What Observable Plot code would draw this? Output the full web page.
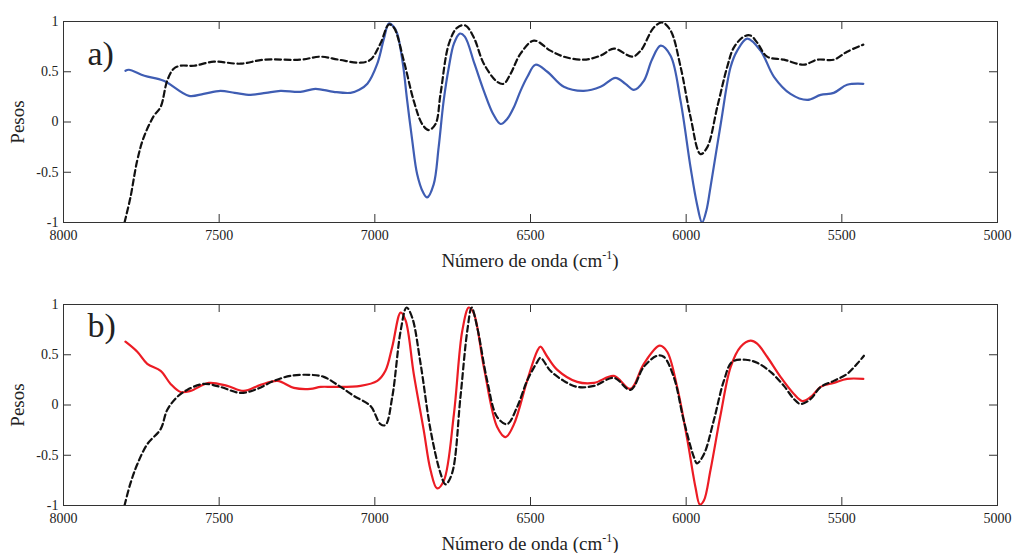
<!DOCTYPE html>
<html>
<head>
<meta charset="utf-8">
<script src="https://cdn.jsdelivr.net/npm/d3@7"></script>
<script src="https://cdn.jsdelivr.net/npm/@observablehq/plot@0.6"></script>
<style>
  html, body { margin: 0; padding: 0; background: #fff; }
  #wrap { position: relative; width: 1014px; height: 553px; overflow: hidden; font-family: "Liberation Serif", "Times New Roman", Tinos, "Nimbus Roman", "FreeSerif", "Noto Serif", "DejaVu Serif", serif; }
  .panel { position: absolute; left: 0; width: 1014px; }
  .xlabel { position: absolute; left: 63px; width: 934px; text-align: center; font-size: 19px; color: #222; line-height: 1; }
  .xlabel sup { font-size: 12px; vertical-align: 8px; line-height: 0; }
</style>
</head>
<body>
<div id="wrap">
  <div class="panel" id="pa" style="top:0px"></div>
  <div class="panel" id="pb" style="top:283px"></div>
  <div class="xlabel" style="top:251px">Número de onda (cm<sup>-1</sup>)</div>
  <div class="xlabel" style="top:534px">Número de onda (cm<sup>-1</sup>)</div>
</div>
<script>
// ---- Data ----
const xTicks = [8000, 7500, 7000, 6500, 6000, 5500, 5000];
const yTicks = [-1, -0.5, 0, 0.5, 1];
const yTickLabels = ["-1", "-0.5", "0", "0.5", "1"];
const panelLabels = ["a)", "b)"];
const yLabel = "Pesos";

// Panel a) blue solid
const aBlueX = [7801, 7790, 7740, 7678, 7597, 7550, 7496, 7450, 7399, 7350, 7303, 7239, 7191, 7132, 7078, 7050, 7024, 6992, 6970, 6955, 6940, 6928, 6910, 6896, 6880, 6864, 6845, 6832, 6811, 6795, 6779, 6762, 6746, 6727, 6711, 6680, 6650, 6620, 6596, 6575, 6553, 6532, 6510, 6484, 6446, 6393, 6329, 6275, 6227, 6195, 6168, 6136, 6110, 6082, 6050, 6018, 5986, 5965, 5949, 5935, 5922, 5889, 5857, 5836, 5804, 5761, 5718, 5665, 5611, 5568, 5526, 5483, 5431];
const aBlueY = [0.51, 0.52, 0.46, 0.41, 0.26, 0.28, 0.31, 0.29, 0.27, 0.29, 0.31, 0.30, 0.33, 0.30, 0.29, 0.32, 0.38, 0.58, 0.84, 0.98, 0.95, 0.88, 0.58, 0.21, -0.18, -0.52, -0.70, -0.75, -0.62, -0.25, 0.21, 0.55, 0.78, 0.88, 0.85, 0.58, 0.31, 0.08, -0.02, 0.03, 0.15, 0.31, 0.45, 0.57, 0.50, 0.35, 0.31, 0.35, 0.44, 0.38, 0.32, 0.41, 0.62, 0.76, 0.66, 0.21, -0.45, -0.82, -1.0, -0.88, -0.65, -0.02, 0.55, 0.71, 0.83, 0.71, 0.45, 0.28, 0.22, 0.27, 0.29, 0.37, 0.38];

// Panel a) black dashed
const aDashX = [7804, 7785, 7763, 7742, 7710, 7688, 7667, 7646, 7624, 7581, 7517, 7431, 7357, 7239, 7174, 7116, 7046, 7014, 6982, 6955, 6939, 6907, 6875, 6848, 6827, 6805, 6789, 6762, 6735, 6709, 6682, 6650, 6607, 6586, 6564, 6532, 6489, 6436, 6393, 6329, 6275, 6232, 6173, 6146, 6104, 6077, 6050, 6018, 5986, 5954, 5932, 5900, 5868, 5847, 5815, 5793, 5772, 5740, 5686, 5622, 5579, 5526, 5483, 5431];
const aDashY = [-1.0, -0.75, -0.38, -0.15, 0.06, 0.15, 0.41, 0.53, 0.56, 0.56, 0.60, 0.58, 0.62, 0.62, 0.65, 0.62, 0.59, 0.62, 0.78, 0.97, 0.94, 0.61, 0.21, -0.02, -0.08, -0.02, 0.28, 0.78, 0.94, 0.96, 0.84, 0.58, 0.40, 0.38, 0.48, 0.68, 0.81, 0.71, 0.65, 0.62, 0.66, 0.73, 0.65, 0.71, 0.94, 0.99, 0.91, 0.55, 0.05, -0.32, -0.25, 0.15, 0.55, 0.74, 0.85, 0.86, 0.79, 0.65, 0.62, 0.57, 0.62, 0.62, 0.70, 0.77];

// Panel b) red solid
const bRedX = [7801, 7763, 7731, 7688, 7656, 7624, 7592, 7533, 7474, 7421, 7367, 7313, 7260, 7207, 7174, 7132, 7046, 6992, 6966, 6944, 6917, 6901, 6875, 6843, 6821, 6800, 6778, 6746, 6719, 6698, 6682, 6650, 6607, 6580, 6553, 6511, 6478, 6468, 6446, 6414, 6350, 6296, 6232, 6179, 6136, 6085, 6061, 6029, 5996, 5970, 5956, 5943, 5922, 5889, 5857, 5825, 5793, 5772, 5740, 5697, 5654, 5627, 5600, 5568, 5526, 5483, 5431];
const bRedY = [0.63, 0.53, 0.41, 0.34, 0.21, 0.13, 0.14, 0.22, 0.19, 0.14, 0.20, 0.24, 0.17, 0.16, 0.18, 0.18, 0.19, 0.24, 0.34, 0.58, 0.92, 0.84, 0.31, -0.25, -0.65, -0.83, -0.75, -0.09, 0.74, 0.97, 0.91, 0.38, -0.22, -0.32, -0.19, 0.24, 0.54, 0.58, 0.48, 0.35, 0.23, 0.22, 0.29, 0.16, 0.41, 0.59, 0.53, 0.18, -0.35, -0.82, -0.99, -0.95, -0.65, -0.09, 0.38, 0.58, 0.64, 0.61, 0.48, 0.28, 0.11, 0.04, 0.08, 0.18, 0.22, 0.26, 0.26];

// Panel b) black dashed
const bDashX = [7804, 7785, 7763, 7731, 7688, 7667, 7635, 7603, 7549, 7496, 7431, 7378, 7324, 7271, 7207, 7164, 7110, 7067, 7014, 6982, 6966, 6944, 6917, 6898, 6880, 6853, 6821, 6789, 6773, 6752, 6725, 6703, 6689, 6671, 6639, 6607, 6575, 6543, 6511, 6478, 6468, 6436, 6393, 6350, 6296, 6232, 6179, 6136, 6093, 6072, 6040, 6008, 5975, 5965, 5943, 5911, 5879, 5852, 5809, 5772, 5729, 5686, 5654, 5633, 5600, 5568, 5526, 5483, 5451, 5429];
const bDashY = [-1.0, -0.78, -0.59, -0.39, -0.24, -0.05, 0.08, 0.15, 0.21, 0.18, 0.12, 0.16, 0.24, 0.29, 0.30, 0.28, 0.18, 0.09, -0.01, -0.19, -0.20, 0.08, 0.74, 0.97, 0.87, 0.41, -0.25, -0.68, -0.79, -0.68, 0.08, 0.74, 0.97, 0.77, 0.24, -0.12, -0.19, -0.02, 0.24, 0.43, 0.47, 0.34, 0.24, 0.18, 0.19, 0.27, 0.15, 0.38, 0.49, 0.48, 0.28, -0.15, -0.52, -0.58, -0.49, -0.15, 0.24, 0.43, 0.45, 0.42, 0.33, 0.19, 0.06, 0.01, 0.06, 0.18, 0.24, 0.31, 0.41, 0.49];

// ---- Build ----
const W = 1014, H = 283;
const mL = 63, mR = 17, mT = 21, mB = 61;
const plotW = W - mL - mR, plotH = H - mT - mB;
const TICK = 8;
const FONT = '"Liberation Serif", "Times New Roman", Tinos, "Nimbus Roman", FreeSerif, "Noto Serif", "DejaVu Serif", serif';

function toRows(xs, ys) { return xs.map((x, i) => ({x, y: ys[i]})); }

function panel(label, solidRows, solidColor, dashRows, labelDy) {
  return Plot.plot({
    width: W, height: H,
    marginLeft: mL, marginRight: mR, marginTop: mT, marginBottom: mB,
    style: {fontFamily: FONT, fontSize: "14px", color: "#222", background: "#fff"},
    x: {domain: [8000, 5000], ticks: xTicks},
    y: {domain: [-1, 1], ticks: yTicks},
    marks: [
      // inward ticks: bottom, top, left, right
      Plot.ruleX(xTicks, {x: d => d, insetTop: plotH - TICK, stroke: "#333", strokeWidth: 1}),
      Plot.ruleX(xTicks, {x: d => d, insetBottom: plotH - TICK, stroke: "#333", strokeWidth: 1}),
      Plot.ruleY(yTicks, {y: d => d, insetRight: plotW - TICK, stroke: "#333", strokeWidth: 1}),
      Plot.ruleY(yTicks, {y: d => d, insetLeft: plotW - TICK, stroke: "#333", strokeWidth: 1}),
      Plot.axisX({ticks: xTicks, tickSize: 0, tickPadding: 8, tickFormat: d => String(d), label: null, fontSize: 14, fontFamily: FONT}),
      Plot.axisY({ticks: yTicks, tickSize: 0, tickPadding: 5, tickFormat: d => yTickLabels[yTicks.indexOf(d)], label: null, fontSize: 14, fontFamily: FONT}),
      Plot.line(solidRows, {x: "x", y: "y", stroke: solidColor, strokeWidth: 2.2, curve: "catmull-rom", clip: true}),
      Plot.line(dashRows, {x: "x", y: "y", stroke: "#111", strokeWidth: 2.2, strokeDasharray: "6,3.5", curve: "catmull-rom", clip: true}),
      Plot.frame({stroke: "#333", strokeWidth: 1}),
      Plot.text([label], {text: d => d, frameAnchor: "top-left", dx: 24, dy: labelDy, textAnchor: "start", lineAnchor: "middle", fontSize: 34, fontFamily: FONT, fill: "#222"}),
      Plot.text([yLabel], {text: d => d, frameAnchor: "left", dx: -46, rotate: -90, textAnchor: "middle", lineAnchor: "middle", fontSize: 19, fontFamily: FONT, fill: "#222"})
    ]
  });
}

document.getElementById("pa").appendChild(
  panel(panelLabels[0], toRows(aBlueX, aBlueY), "#3f5db3", toRows(aDashX, aDashY), 33));
document.getElementById("pb").appendChild(
  panel(panelLabels[1], toRows(bRedX, bRedY), "#ec1c24", toRows(bDashX, bDashY), 22));
</script>
</body>
</html>
